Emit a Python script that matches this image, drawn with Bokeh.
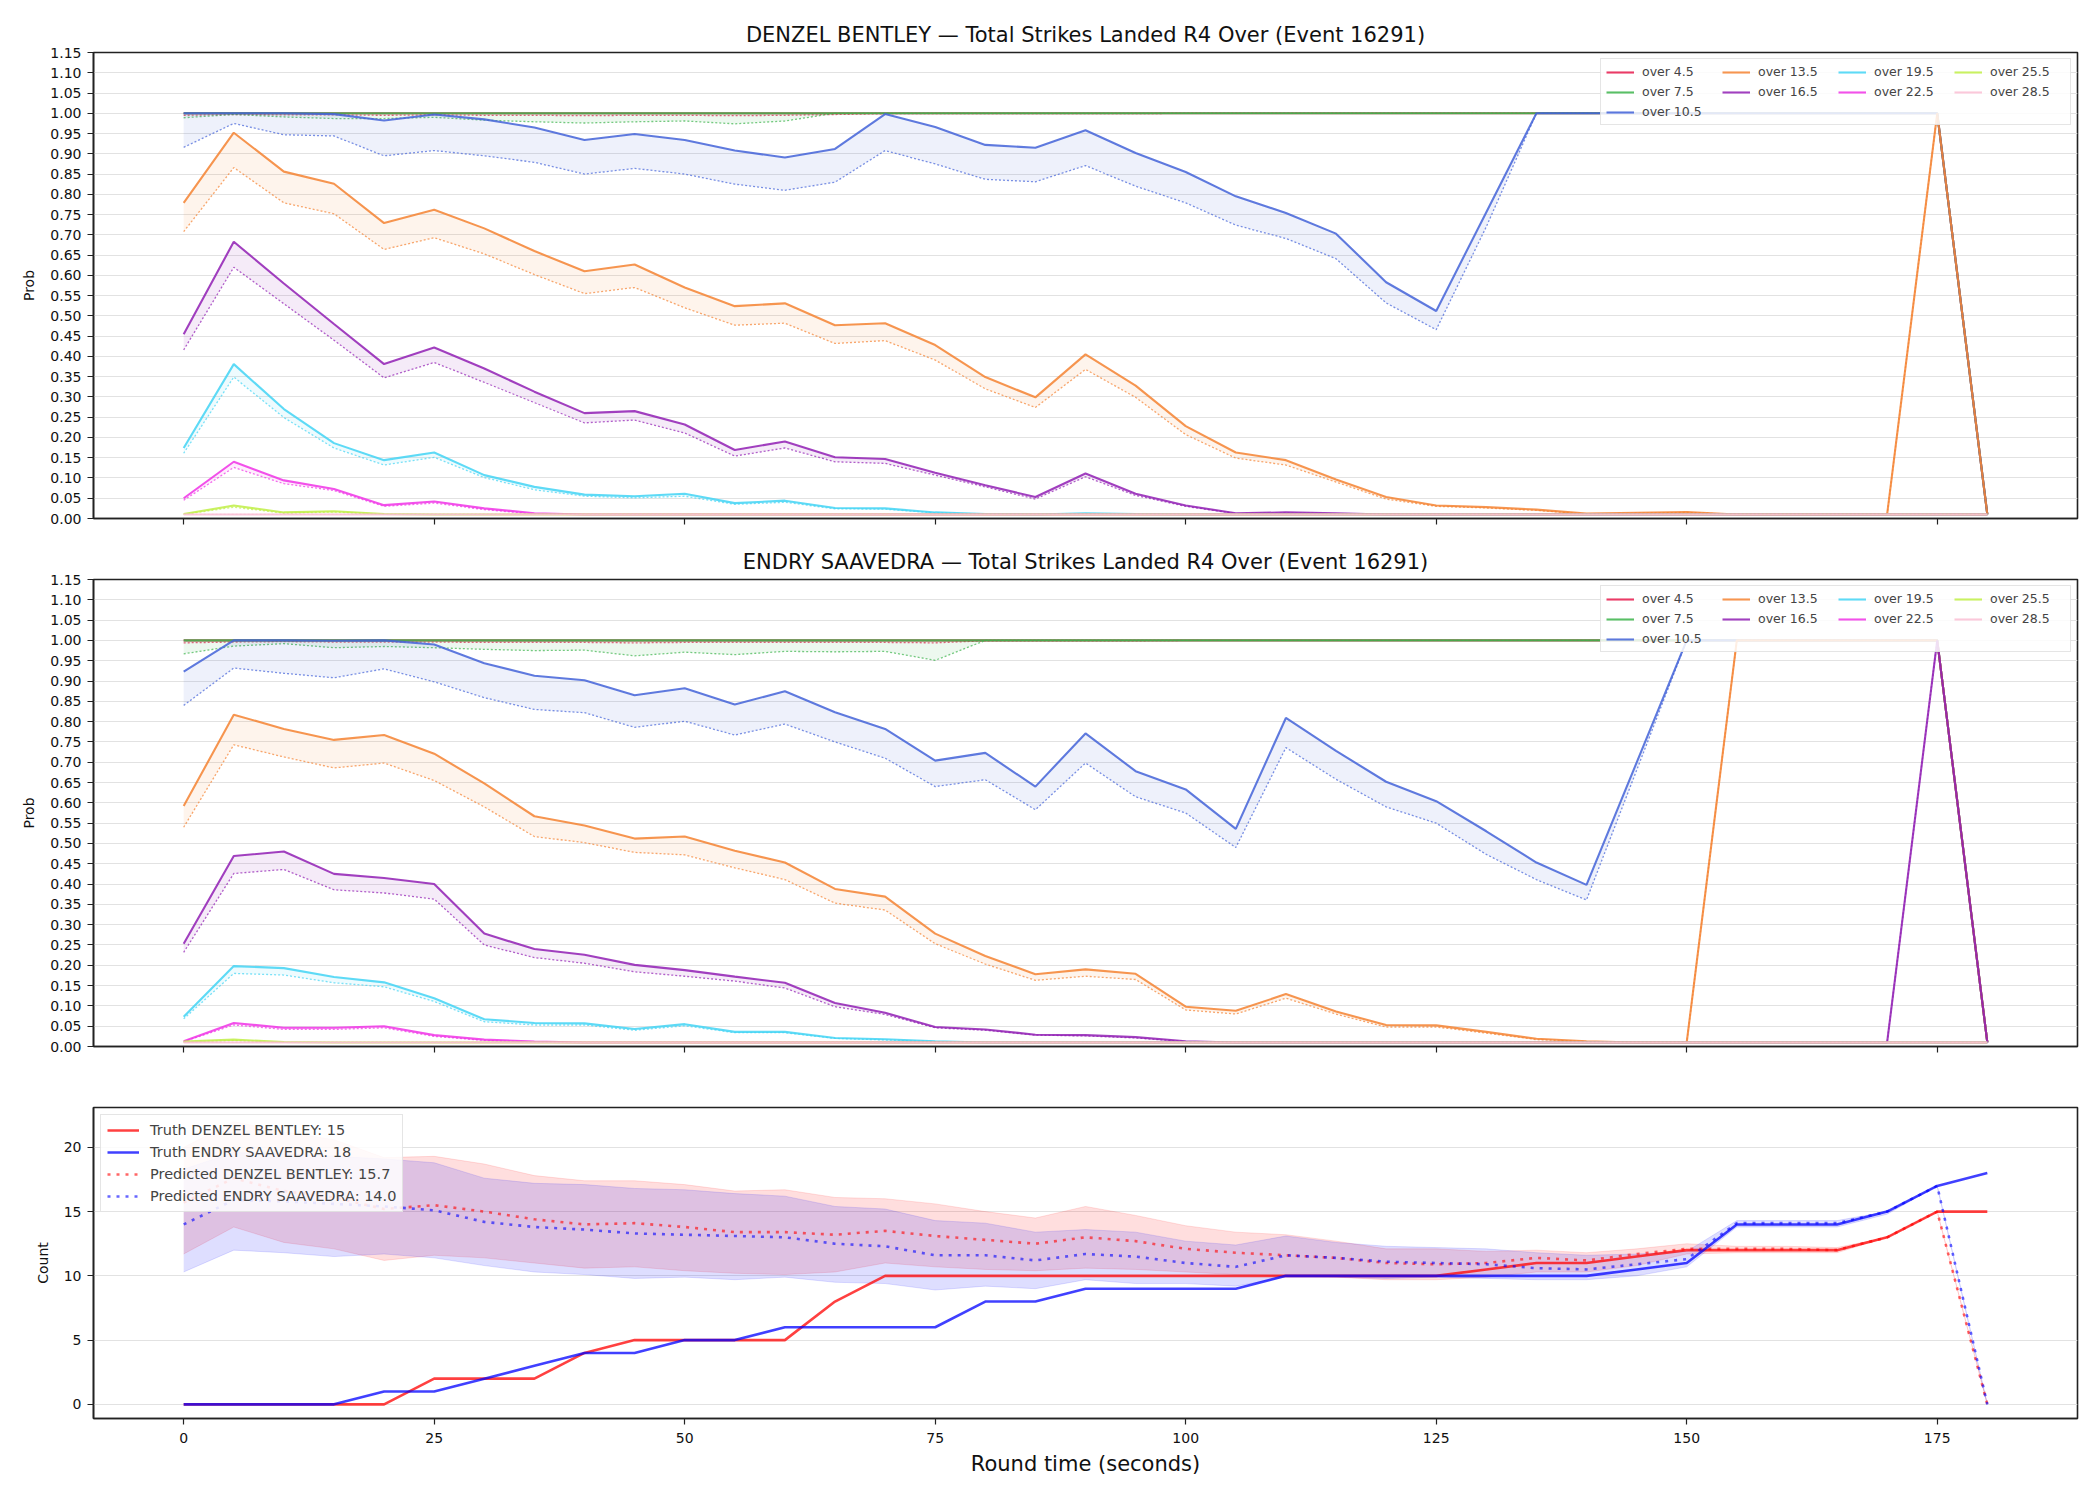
import numpy as np
from bokeh.plotting import figure
from bokeh.layouts import column
from bokeh.models import Legend, LegendItem, FixedTicker, NumeralTickFormatter, Range1d
from bokeh.embed import file_html
from bokeh.resources import INLINE

# ---------------- data ----------------
T = [0, 5, 10, 15, 20, 25, 30, 35, 40, 45, 50, 55, 60, 65, 70, 75, 80, 85, 90, 95,
     100, 105, 110, 115, 120, 125, 130, 135, 140, 145, 150, 155, 160, 165, 170, 175, 180]

THRESHOLDS = ["over 4.5", "over 7.5", "over 10.5", "over 13.5", "over 16.5",
              "over 19.5", "over 22.5", "over 25.5", "over 28.5"]
COLORS = ["#e6194b", "#3cb44b", "#4363d8", "#f58231", "#911eb4",
          "#42d4f4", "#f032e6", "#bfef45", "#fabed4"]

# DENZEL BENTLEY: solid (live) and dotted (pre) probability per line
den_o4_5 = [1.000, 1.000, 1.000, 1.000, 1.000, 1.000, 1.000, 1.000, 1.000, 1.000,
            1.000, 1.000, 1.000, 1.000, 1.000, 1.000, 1.000, 1.000, 1.000, 1.000,
            1.000, 1.000, 1.000, 1.000, 1.000, 1.000, 1.000, 1.000, 1.000, 1.000,
            1.000, 1.000, 1.000, 1.000, 1.000, 1.000, 0.010]
den_o4_5_pre = [0.995, 0.997, 0.996, 0.996, 0.995, 0.996, 0.995, 0.995, 0.994, 0.995,
                0.995, 0.994, 0.995, 0.997, 0.999, 0.999, 0.999, 0.999, 0.999, 0.999,
                1.000, 1.000, 1.000, 1.000, 1.000, 1.000, 1.000, 1.000, 1.000, 1.000,
                1.000, 1.000, 1.000, 1.000, 1.000, 1.000, 0.010]
den_o7_5 = [1.000, 1.000, 1.000, 1.000, 1.000, 1.000, 1.000, 1.000, 1.000, 1.000,
            1.000, 1.000, 1.000, 1.000, 1.000, 1.000, 1.000, 1.000, 1.000, 1.000,
            1.000, 1.000, 1.000, 1.000, 1.000, 1.000, 1.000, 1.000, 1.000, 1.000,
            1.000, 1.000, 1.000, 1.000, 1.000, 1.000, 0.010]
den_o7_5_pre = [0.989, 0.997, 0.991, 0.987, 0.987, 0.990, 0.983, 0.979, 0.976, 0.979,
                0.981, 0.974, 0.981, 1.000, 1.000, 1.000, 1.000, 1.000, 1.000, 1.000,
                1.000, 1.000, 1.000, 1.000, 1.000, 1.000, 1.000, 1.000, 1.000, 1.000,
                1.000, 1.000, 1.000, 1.000, 1.000, 1.000, 0.010]
den_o10_5 = [1.000, 1.000, 1.000, 0.998, 0.982, 0.997, 0.985, 0.965, 0.934, 0.949,
             0.934, 0.908, 0.891, 0.912, 0.998, 0.966, 0.922, 0.915, 0.958, 0.902,
             0.855, 0.795, 0.754, 0.703, 0.583, 0.512, 0.756, 1.000, 1.000, 1.000,
             1.000, 1.000, 1.000, 1.000, 1.000, 1.000, 0.010]
den_o10_5_pre = [0.916, 0.975, 0.947, 0.944, 0.895, 0.908, 0.895, 0.879, 0.850, 0.864,
                 0.850, 0.825, 0.810, 0.830, 0.908, 0.875, 0.837, 0.831, 0.871, 0.820,
                 0.779, 0.724, 0.691, 0.641, 0.532, 0.466, 0.720, 1.000, 1.000, 1.000,
                 1.000, 1.000, 1.000, 1.000, 1.000, 1.000, 0.010]
den_o13_5 = [0.779, 0.952, 0.856, 0.826, 0.729, 0.762, 0.716, 0.660, 0.610, 0.627,
             0.570, 0.524, 0.531, 0.477, 0.482, 0.428, 0.349, 0.299, 0.405, 0.328,
             0.228, 0.163, 0.144, 0.096, 0.053, 0.032, 0.028, 0.022, 0.012, 0.014,
             0.016, 0.010, 0.010, 0.010, 0.010, 1.000, 0.010]
den_o13_5_pre = [0.708, 0.866, 0.779, 0.752, 0.664, 0.693, 0.653, 0.602, 0.555, 0.570,
                 0.520, 0.477, 0.482, 0.432, 0.439, 0.391, 0.320, 0.274, 0.368, 0.299,
                 0.207, 0.149, 0.132, 0.090, 0.048, 0.030, 0.026, 0.020, 0.011, 0.013,
                 0.015, 0.010, 0.010, 0.010, 0.010, 1.000, 0.010]
den_o16_5 = [0.455, 0.683, 0.580, 0.480, 0.381, 0.422, 0.370, 0.313, 0.260, 0.265,
             0.232, 0.169, 0.190, 0.151, 0.147, 0.113, 0.082, 0.053, 0.111, 0.061,
             0.032, 0.013, 0.015, 0.013, 0.010, 0.010, 0.010, 0.010, 0.010, 0.010,
             0.010, 0.010, 0.010, 0.010, 0.010, 0.010, 0.010]
den_o16_5_pre = [0.416, 0.620, 0.530, 0.440, 0.347, 0.385, 0.336, 0.286, 0.236, 0.243,
                 0.211, 0.154, 0.174, 0.140, 0.136, 0.107, 0.078, 0.048, 0.103, 0.057,
                 0.030, 0.012, 0.013, 0.012, 0.010, 0.010, 0.010, 0.010, 0.010, 0.010,
                 0.010, 0.010, 0.010, 0.010, 0.010, 0.010, 0.010]
den_o19_5 = [0.174, 0.381, 0.270, 0.186, 0.144, 0.163, 0.107, 0.078, 0.059, 0.055,
             0.061, 0.038, 0.044, 0.026, 0.025, 0.015, 0.011, 0.010, 0.013, 0.011,
             0.010, 0.010, 0.010, 0.010, 0.010, 0.010, 0.010, 0.010, 0.010, 0.010,
             0.010, 0.010, 0.010, 0.010, 0.010, 0.010, 0.010]
den_o19_5_pre = [0.161, 0.349, 0.249, 0.174, 0.132, 0.151, 0.101, 0.071, 0.055, 0.051,
                 0.055, 0.035, 0.040, 0.024, 0.023, 0.014, 0.010, 0.010, 0.011, 0.010,
                 0.010, 0.010, 0.010, 0.010, 0.010, 0.010, 0.010, 0.010, 0.010, 0.010,
                 0.010, 0.010, 0.010, 0.010, 0.010, 0.010, 0.010]
den_o22_5 = [0.050, 0.140, 0.094, 0.073, 0.033, 0.042, 0.025, 0.013, 0.010, 0.010,
             0.010, 0.010, 0.010, 0.010, 0.010, 0.010, 0.010, 0.010, 0.010, 0.010,
             0.010, 0.010, 0.010, 0.010, 0.010, 0.010, 0.010, 0.010, 0.010, 0.010,
             0.010, 0.010, 0.010, 0.010, 0.010, 0.010, 0.010]
den_o22_5_pre = [0.045, 0.126, 0.086, 0.069, 0.030, 0.038, 0.022, 0.011, 0.010, 0.010,
                 0.010, 0.010, 0.010, 0.010, 0.010, 0.010, 0.010, 0.010, 0.010, 0.010,
                 0.010, 0.010, 0.010, 0.010, 0.010, 0.010, 0.010, 0.010, 0.010, 0.010,
                 0.010, 0.010, 0.010, 0.010, 0.010, 0.010, 0.010]
den_o25_5 = [0.011, 0.032, 0.015, 0.018, 0.011, 0.010, 0.010, 0.010, 0.010, 0.010,
             0.010, 0.010, 0.010, 0.010, 0.010, 0.010, 0.010, 0.010, 0.010, 0.010,
             0.010, 0.010, 0.010, 0.010, 0.010, 0.010, 0.010, 0.010, 0.010, 0.010,
             0.010, 0.010, 0.010, 0.010, 0.010, 0.010, 0.010]
den_o25_5_pre = [0.010, 0.028, 0.013, 0.016, 0.010, 0.010, 0.010, 0.010, 0.010, 0.010,
                 0.010, 0.010, 0.010, 0.010, 0.010, 0.010, 0.010, 0.010, 0.010, 0.010,
                 0.010, 0.010, 0.010, 0.010, 0.010, 0.010, 0.010, 0.010, 0.010, 0.010,
                 0.010, 0.010, 0.010, 0.010, 0.010, 0.010, 0.010]
den_o28_5 = [0.010, 0.010, 0.010, 0.010, 0.010, 0.010, 0.010, 0.010, 0.010, 0.010,
             0.010, 0.010, 0.010, 0.010, 0.010, 0.010, 0.010, 0.010, 0.010, 0.010,
             0.010, 0.010, 0.010, 0.010, 0.010, 0.010, 0.010, 0.010, 0.010, 0.010,
             0.010, 0.010, 0.010, 0.010, 0.010, 0.010, 0.010]
den_o28_5_pre = [0.010, 0.010, 0.010, 0.010, 0.010, 0.010, 0.010, 0.010, 0.010, 0.010,
                 0.010, 0.010, 0.010, 0.010, 0.010, 0.010, 0.010, 0.010, 0.010, 0.010,
                 0.010, 0.010, 0.010, 0.010, 0.010, 0.010, 0.010, 0.010, 0.010, 0.010,
                 0.010, 0.010, 0.010, 0.010, 0.010, 0.010, 0.010]

# ENDRY SAAVEDRA
end_o4_5 = [1.000, 1.000, 1.000, 1.000, 1.000, 1.000, 1.000, 1.000, 1.000, 1.000,
            1.000, 1.000, 1.000, 1.000, 1.000, 1.000, 1.000, 1.000, 1.000, 1.000,
            1.000, 1.000, 1.000, 1.000, 1.000, 1.000, 1.000, 1.000, 1.000, 1.000,
            1.000, 1.000, 1.000, 1.000, 1.000, 1.000, 0.010]
end_o4_5_pre = [0.994, 0.996, 0.997, 0.996, 0.996, 0.996, 0.995, 0.995, 0.995, 0.994,
                0.995, 0.995, 0.995, 0.995, 0.995, 0.994, 0.999, 0.999, 0.999, 0.999,
                1.000, 1.000, 1.000, 1.000, 1.000, 1.000, 1.000, 1.000, 1.000, 1.000,
                1.000, 1.000, 1.000, 1.000, 1.000, 1.000, 0.010]
end_o7_5 = [1.000, 1.000, 1.000, 1.000, 1.000, 1.000, 1.000, 1.000, 1.000, 1.000,
            1.000, 1.000, 1.000, 1.000, 1.000, 1.000, 1.000, 1.000, 1.000, 1.000,
            1.000, 1.000, 1.000, 1.000, 1.000, 1.000, 1.000, 1.000, 1.000, 1.000,
            1.000, 1.000, 1.000, 1.000, 1.000, 1.000, 0.010]
end_o7_5_pre = [0.967, 0.986, 0.992, 0.982, 0.985, 0.982, 0.978, 0.975, 0.976, 0.962,
                0.971, 0.965, 0.973, 0.972, 0.973, 0.951, 1.000, 1.000, 1.000, 1.000,
                1.000, 1.000, 1.000, 1.000, 1.000, 1.000, 1.000, 1.000, 1.000, 1.000,
                1.000, 1.000, 1.000, 1.000, 1.000, 1.000, 0.010]
end_o10_5 = [0.923, 1.000, 1.000, 0.999, 1.000, 0.990, 0.944, 0.913, 0.902, 0.865,
             0.882, 0.842, 0.875, 0.823, 0.782, 0.704, 0.723, 0.640, 0.771, 0.678,
             0.633, 0.536, 0.809, 0.728, 0.652, 0.604, 0.530, 0.453, 0.398, 0.699,
             1.000, 1.000, 1.000, 1.000, 1.000, 1.000, 0.010]
end_o10_5_pre = [0.840, 0.932, 0.919, 0.908, 0.930, 0.898, 0.859, 0.830, 0.822, 0.786,
                 0.801, 0.767, 0.794, 0.750, 0.710, 0.640, 0.657, 0.583, 0.698, 0.615,
                 0.575, 0.490, 0.736, 0.658, 0.590, 0.550, 0.473, 0.411, 0.361, 0.680,
                 1.000, 1.000, 1.000, 1.000, 1.000, 1.000, 0.010]
end_o13_5 = [0.592, 0.817, 0.782, 0.755, 0.767, 0.721, 0.648, 0.567, 0.544, 0.512,
             0.517, 0.482, 0.453, 0.388, 0.369, 0.278, 0.223, 0.178, 0.190, 0.179,
             0.098, 0.088, 0.129, 0.086, 0.053, 0.052, 0.036, 0.019, 0.013, 0.010,
             0.010, 1.000, 1.000, 1.000, 1.000, 1.000, 0.010]
end_o13_5_pre = [0.540, 0.743, 0.713, 0.686, 0.698, 0.655, 0.590, 0.517, 0.502, 0.478,
                 0.472, 0.440, 0.411, 0.353, 0.336, 0.253, 0.203, 0.163, 0.173, 0.165,
                 0.090, 0.080, 0.119, 0.080, 0.048, 0.048, 0.033, 0.017, 0.012, 0.010,
                 0.010, 1.000, 1.000, 1.000, 1.000, 1.000, 0.010]
end_o16_5 = [0.253, 0.469, 0.480, 0.425, 0.415, 0.400, 0.278, 0.240, 0.226, 0.201,
             0.188, 0.172, 0.157, 0.107, 0.083, 0.048, 0.042, 0.029, 0.028, 0.023,
             0.013, 0.010, 0.010, 0.010, 0.010, 0.010, 0.010, 0.010, 0.010, 0.010,
             0.010, 0.010, 0.010, 0.010, 0.010, 1.000, 0.010]
end_o16_5_pre = [0.232, 0.426, 0.436, 0.386, 0.378, 0.363, 0.250, 0.219, 0.205, 0.184,
                 0.173, 0.161, 0.144, 0.098, 0.079, 0.046, 0.040, 0.028, 0.026, 0.021,
                 0.012, 0.010, 0.010, 0.010, 0.010, 0.010, 0.010, 0.010, 0.010, 0.010,
                 0.010, 0.010, 0.010, 0.010, 0.010, 1.000, 0.010]
end_o19_5 = [0.073, 0.198, 0.193, 0.171, 0.158, 0.119, 0.067, 0.058, 0.057, 0.043,
             0.055, 0.036, 0.036, 0.021, 0.018, 0.013, 0.010, 0.010, 0.010, 0.010,
             0.010, 0.010, 0.010, 0.010, 0.010, 0.010, 0.010, 0.010, 0.010, 0.010,
             0.010, 0.010, 0.010, 0.010, 0.010, 0.010, 0.010]
end_o19_5_pre = [0.068, 0.180, 0.176, 0.157, 0.147, 0.111, 0.061, 0.053, 0.053, 0.040,
                 0.051, 0.034, 0.034, 0.020, 0.016, 0.012, 0.010, 0.010, 0.010, 0.010,
                 0.010, 0.010, 0.010, 0.010, 0.010, 0.010, 0.010, 0.010, 0.010, 0.010,
                 0.010, 0.010, 0.010, 0.010, 0.010, 0.010, 0.010]
end_o22_5 = [0.013, 0.058, 0.046, 0.046, 0.050, 0.028, 0.017, 0.012, 0.010, 0.010,
             0.010, 0.010, 0.010, 0.010, 0.010, 0.010, 0.010, 0.010, 0.010, 0.010,
             0.010, 0.010, 0.010, 0.010, 0.010, 0.010, 0.010, 0.010, 0.010, 0.010,
             0.010, 0.010, 0.010, 0.010, 0.010, 0.010, 0.010]
end_o22_5_pre = [0.012, 0.053, 0.042, 0.042, 0.046, 0.025, 0.015, 0.011, 0.010, 0.010,
                 0.010, 0.010, 0.010, 0.010, 0.010, 0.010, 0.010, 0.010, 0.010, 0.010,
                 0.010, 0.010, 0.010, 0.010, 0.010, 0.010, 0.010, 0.010, 0.010, 0.010,
                 0.010, 0.010, 0.010, 0.010, 0.010, 0.010, 0.010]
end_o25_5 = [0.012, 0.017, 0.011, 0.010, 0.010, 0.010, 0.010, 0.010, 0.010, 0.010,
             0.010, 0.010, 0.010, 0.010, 0.010, 0.010, 0.010, 0.010, 0.010, 0.010,
             0.010, 0.010, 0.010, 0.010, 0.010, 0.010, 0.010, 0.010, 0.010, 0.010,
             0.010, 0.010, 0.010, 0.010, 0.010, 0.010, 0.010]
end_o25_5_pre = [0.011, 0.015, 0.010, 0.010, 0.010, 0.010, 0.010, 0.010, 0.010, 0.010,
                 0.010, 0.010, 0.010, 0.010, 0.010, 0.010, 0.010, 0.010, 0.010, 0.010,
                 0.010, 0.010, 0.010, 0.010, 0.010, 0.010, 0.010, 0.010, 0.010, 0.010,
                 0.010, 0.010, 0.010, 0.010, 0.010, 0.010, 0.010]
end_o28_5 = [0.010, 0.010, 0.010, 0.010, 0.010, 0.010, 0.010, 0.010, 0.010, 0.010,
             0.010, 0.010, 0.010, 0.010, 0.010, 0.010, 0.010, 0.010, 0.010, 0.010,
             0.010, 0.010, 0.010, 0.010, 0.010, 0.010, 0.010, 0.010, 0.010, 0.010,
             0.010, 0.010, 0.010, 0.010, 0.010, 0.010, 0.010]
end_o28_5_pre = [0.010, 0.010, 0.010, 0.010, 0.010, 0.010, 0.010, 0.010, 0.010, 0.010,
                 0.010, 0.010, 0.010, 0.010, 0.010, 0.010, 0.010, 0.010, 0.010, 0.010,
                 0.010, 0.010, 0.010, 0.010, 0.010, 0.010, 0.010, 0.010, 0.010, 0.010,
                 0.010, 0.010, 0.010, 0.010, 0.010, 0.010, 0.010]

# Counts panel
den_truth = [0, 0, 0, 0, 0, 2, 2, 2, 4, 5,
             5, 5, 5, 8, 10, 10, 10, 10, 10, 10,
             10, 10, 10, 10, 10, 10, 10.5, 11, 11, 11.5,
             12, 12, 12, 12, 13, 15, 15]
end_truth = [0, 0, 0, 0, 1, 1, 2, 3, 4, 4,
             5, 5, 6, 6, 6, 6, 8, 8, 9, 9,
             9, 9, 10, 10, 10, 10, 10, 10, 10, 10.5,
             11, 14, 14, 14, 15, 17, 18]
den_pred = [15.7, 17.6, 16.6, 16.1, 15.2, 15.5, 15.0, 14.4, 14.0, 14.1,
            13.8, 13.4, 13.4, 13.2, 13.5, 13.1, 12.8, 12.5, 13.0, 12.7,
            12.1, 11.8, 11.6, 11.4, 11.0, 10.9, 11.0, 11.4, 11.2, 11.7,
            12.1, 12.1, 12.1, 12.0, 13.0, 15.0, 0.0]
den_hi = [20.0, 22.0, 21.2, 20.6, 19.2, 19.3, 18.7, 17.8, 17.4, 17.4,
          17.1, 16.6, 16.7, 16.1, 16.0, 15.6, 15.0, 14.5, 15.4, 14.7,
          13.9, 13.4, 13.2, 12.7, 12.1, 12.1, 11.9, 12.0, 11.8, 12.1,
          12.5, 12.3, 12.3, 12.2, 13.0, 15.0, 0.0]
den_lo = [11.7, 13.8, 12.6, 12.1, 11.2, 11.6, 11.4, 11.0, 10.6, 10.7,
          10.4, 10.2, 10.1, 10.3, 11.0, 10.7, 10.5, 10.4, 10.6, 10.5,
          10.3, 10.1, 10.0, 9.9, 9.7, 9.7, 9.9, 10.3, 10.3, 10.8,
          11.7, 11.8, 11.8, 11.8, 13.0, 15.0, 0.0]
end_pred = [14.0, 15.9, 15.8, 15.6, 15.4, 15.1, 14.2, 13.8, 13.6, 13.3,
            13.2, 13.1, 13.0, 12.5, 12.3, 11.6, 11.6, 11.2, 11.7, 11.5,
            11.0, 10.7, 11.6, 11.4, 11.1, 11.0, 10.9, 10.6, 10.5, 10.9,
            11.3, 14.1, 14.1, 14.1, 15.0, 17.0, 0.0]
end_hi = [18.3, 19.6, 19.5, 19.3, 19.1, 18.8, 17.6, 17.2, 17.1, 16.8,
          16.7, 16.4, 16.2, 15.4, 15.2, 14.3, 14.1, 13.4, 13.6, 13.4,
          12.7, 12.4, 13.1, 12.6, 12.3, 12.2, 12.1, 11.8, 11.6, 11.7,
          11.9, 14.3, 14.3, 14.3, 15.0, 17.0, 0.0]
end_lo = [10.3, 12.0, 11.8, 11.5, 11.7, 11.4, 10.8, 10.3, 10.1, 9.8,
          9.9, 9.7, 9.9, 9.5, 9.4, 8.9, 9.2, 9.0, 9.7, 9.4,
          9.4, 9.2, 9.9, 9.9, 9.8, 9.9, 9.8, 9.7, 9.7, 10.0,
          10.7, 13.8, 13.8, 13.8, 14.8, 17.0, 0.0]

TRUTH_LABELS = ["Truth DENZEL BENTLEY: 15", "Truth ENDRY SAAVEDRA: 18"]
PRED_LABELS = ["Predicted DENZEL BENTLEY: 15.7", "Predicted ENDRY SAAVEDRA: 14.0"]

DEN_SERIES = [(den_o4_5, den_o4_5_pre), (den_o7_5, den_o7_5_pre), (den_o10_5, den_o10_5_pre),
              (den_o13_5, den_o13_5_pre), (den_o16_5, den_o16_5_pre), (den_o19_5, den_o19_5_pre),
              (den_o22_5, den_o22_5_pre), (den_o25_5, den_o25_5_pre), (den_o28_5, den_o28_5_pre)]
END_SERIES = [(end_o4_5, end_o4_5_pre), (end_o7_5, end_o7_5_pre), (end_o10_5, end_o10_5_pre),
              (end_o13_5, end_o13_5_pre), (end_o16_5, end_o16_5_pre), (end_o19_5, end_o19_5_pre),
              (end_o22_5, end_o22_5_pre), (end_o25_5, end_o25_5_pre), (end_o28_5, end_o28_5_pre)]

# ---------------- styling helpers ----------------
FONT = "DejaVu Sans"
W = 2100
XT = [0, 25, 50, 75, 100, 125, 150, 175]


def base_style(p):
    p.outline_line_color = "#222222"
    p.outline_line_width = 1.6
    p.xgrid.grid_line_color = None
    p.ygrid.grid_line_color = "#e2e2e2"
    p.ygrid.grid_line_width = 1
    for ax in (p.xaxis[0], p.yaxis[0]):
        ax.axis_line_color = "#222222"
        ax.axis_line_width = 1.6
        ax.major_tick_line_color = "#222222"
        ax.major_tick_line_width = 1.2
        ax.major_tick_out = 6
        ax.major_tick_in = 0
        ax.minor_tick_line_color = None
        ax.major_label_text_font = FONT
        ax.major_label_text_font_size = "14px"
        ax.major_label_text_color = "#111111"
        ax.axis_label_text_font = FONT
        ax.axis_label_text_font_style = "normal"
        ax.axis_label_text_color = "#111111"
    p.xaxis[0].ticker = FixedTicker(ticks=XT)
    p.yaxis[0].major_label_standoff = 6
    p.title.text_font = FONT
    p.title.text_font_size = "21px"
    p.title.text_font_style = "normal"
    p.title.align = "center"
    p.title.text_color = "#111111"


def prob_panel(title, series, height, top, bottom):
    p = figure(width=W, height=height, output_backend="svg", toolbar_location=None,
               x_range=Range1d(-9, 189), y_range=Range1d(0, 1.15), title=title,
               min_border_left=93, min_border_right=23, min_border_top=top,
               min_border_bottom=bottom)
    base_style(p)
    p.title.standoff = 12
    p.yaxis[0].ticker = FixedTicker(ticks=[round(v, 2) for v in np.arange(0, 1.151, 0.05)])
    p.yaxis[0].formatter = NumeralTickFormatter(format="0.00")
    p.yaxis[0].axis_label = "Prob"
    p.yaxis[0].axis_label_text_font_size = "14px"
    p.yaxis[0].axis_label_standoff = 10
    p.xaxis[0].major_label_overrides = {t: "" for t in XT}
    p.xaxis[0].major_label_text_font_size = "2px"
    p.xaxis[0].major_label_standoff = 2
    solid = []
    for (live, pre), c in zip(series, COLORS):
        p.varea(x=T, y1=live, y2=pre, fill_color=c, fill_alpha=0.09)
        r = p.line(T, live, line_color=c, line_width=2.1, line_alpha=0.85)
        p.line(T, pre, line_color=c, line_width=1.3, line_alpha=0.7, line_dash="2 2")
        solid.append(r)
    order = [0, 3, 5, 7, 1, 4, 6, 8, 2]
    legend = Legend(items=[LegendItem(label=THRESHOLDS[i], renderers=[solid[i]]) for i in order],
                    location="top_right", orientation="horizontal", ncols=4,
                    label_text_font=FONT, label_text_font_size="12.5px",
                    glyph_width=28, glyph_height=14, label_height=14, label_width=75,
                    label_standoff=8, spacing=5, padding=5, margin=6,
                    border_line_color="#cccccc", border_line_width=1.5,
                    background_fill_alpha=0.85)
    p.add_layout(legend)
    return p


p1 = prob_panel("DENZEL BENTLEY \u2014 Total Strikes Landed R4 Over (Event 16291)", DEN_SERIES, 540, 52, 22)
p2 = prob_panel("ENDRY SAAVEDRA \u2014 Total Strikes Landed R4 Over (Event 16291)", END_SERIES, 528, 39, 22)

# ---------------- counts panel ----------------
p3 = figure(width=W, height=432, output_backend="svg", toolbar_location=None,
            x_range=Range1d(-9, 189), y_range=Range1d(-1.1, 23.1),
            min_border_left=93, min_border_right=23, min_border_top=39, min_border_bottom=82)
base_style(p3)
p3.yaxis[0].ticker = FixedTicker(ticks=[0, 5, 10, 15, 20])
p3.yaxis[0].axis_label = "Count"
p3.yaxis[0].axis_label_text_font_size = "14px"
p3.yaxis[0].axis_label_standoff = 10
p3.xaxis[0].axis_label = "Round time (seconds)"
p3.xaxis[0].axis_label_text_font_size = "21px"
p3.xaxis[0].major_label_standoff = 8
p3.xaxis[0].axis_label_standoff = 6

p3.varea(x=T, y1=den_lo, y2=den_hi, fill_color="red", fill_alpha=0.13)
p3.line(T, den_hi, line_color="red", line_alpha=0.12, line_width=1)
p3.line(T, den_lo, line_color="red", line_alpha=0.12, line_width=1)
p3.varea(x=T, y1=end_lo, y2=end_hi, fill_color="blue", fill_alpha=0.13)
p3.line(T, end_hi, line_color="blue", line_alpha=0.12, line_width=1)
p3.line(T, end_lo, line_color="blue", line_alpha=0.12, line_width=1)

r_dt = p3.line(T, den_truth, line_color="red", line_alpha=0.75, line_width=2.6)
r_et = p3.line(T, end_truth, line_color="blue", line_alpha=0.75, line_width=2.6)
r_dp = p3.line(T, den_pred, line_color="red", line_alpha=0.6, line_width=2.6, line_dash="3 6")
r_ep = p3.line(T, end_pred, line_color="blue", line_alpha=0.6, line_width=2.6, line_dash="3 6")

leg3 = Legend(items=[LegendItem(label=TRUTH_LABELS[0], renderers=[r_dt]),
                     LegendItem(label=TRUTH_LABELS[1], renderers=[r_et]),
                     LegendItem(label=PRED_LABELS[0], renderers=[r_dp]),
                     LegendItem(label=PRED_LABELS[1], renderers=[r_ep])],
              location="top_left", label_text_font=FONT, label_text_font_size="14.5px",
              glyph_width=32, glyph_height=18, label_height=18, label_standoff=11,
              spacing=4, padding=6, margin=7,
              border_line_color="#cccccc", border_line_width=1.5, background_fill_alpha=0.85)
p3.add_layout(leg3)

layout = column(p1, p2, p3, spacing=0)
open("out.html", "w").write(file_html(layout, INLINE))
